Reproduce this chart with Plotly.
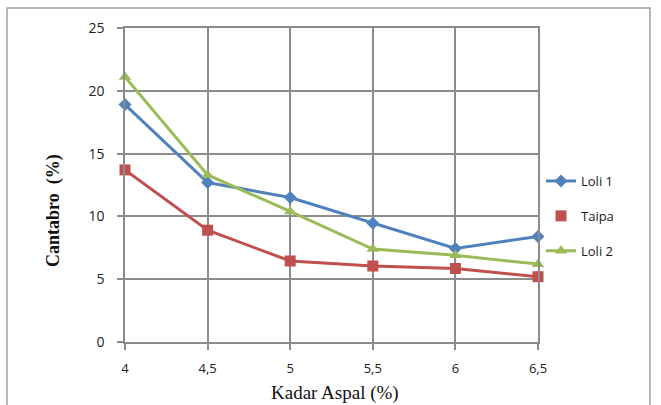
import plotly.graph_objects as go

kadar = [4, 4.5, 5, 5.5, 6, 6.5]
tick_labels = ["4", "4,5", "5", "5,5", "6", "6,5"]
loli1 = [18.9, 12.7, 11.5, 9.45, 7.45, 8.4]
taipa = [13.7, 8.9, 6.45, 6.05, 5.85, 5.2]
loli2 = [21.1, 13.3, 10.4, 7.4, 6.9, 6.2]

C_BLUE = "#4F81BD"
C_RED = "#C0504D"
C_GREEN = "#9BBB59"
GRID = "#8C8C8C"

fig = go.Figure()
fig.add_trace(go.Scatter(x=kadar, y=loli1, mode="lines+markers", name="Loli 1",
                         line=dict(color=C_BLUE, width=3), cliponaxis=False,
                         marker=dict(symbol="diamond", size=10, color=C_BLUE),
                         legendgroup="a"))
fig.add_trace(go.Scatter(x=kadar, y=taipa, mode="lines+markers", name="Taipa",
                         line=dict(color=C_RED, width=3), cliponaxis=False,
                         marker=dict(symbol="square", size=11, color=C_RED),
                         showlegend=False))
fig.add_trace(go.Scatter(x=[None], y=[None], mode="markers", name="Taipa",
                         marker=dict(symbol="square", size=11, color=C_RED),
                         legendgroup="b"))
fig.add_trace(go.Scatter(x=kadar, y=loli2, mode="lines+markers", name="Loli 2",
                         line=dict(color=C_GREEN, width=3), cliponaxis=False,
                         marker=dict(symbol="triangle-up", size=11, color=C_GREEN),
                         legendgroup="c"))

W, H = 661, 405
L, R, T, B = 125, W - 538, 28, H - 342
pw, ph = W - L - R, H - T - B

def px(x):
    return (x - L) / pw

def py(y):
    return (H - B - y) / ph

fig.add_shape(type="rect", xref="paper", yref="paper",
              x0=px(7), x1=px(650), y0=py(420), y1=py(8),
              line=dict(color="#A0A0A0", width=1.5), fillcolor="rgba(0,0,0,0)", layer="below")

fig.add_annotation(text="Kadar Aspal (%)", xref="paper", yref="paper",
                   x=px(335), y=py(393), xanchor="center", yanchor="middle",
                   showarrow=False,
                   font=dict(family="Liberation Serif, serif", size=19, color="#111111"))
fig.add_annotation(text="<b>Cantabro  (%)</b>", xref="paper", yref="paper",
                   x=px(53), y=py(211), xanchor="center", yanchor="middle",
                   showarrow=False, textangle=-90,
                   font=dict(family="Liberation Serif, serif", size=18, color="#111111"))

fig.update_layout(
    width=W, height=H,
    margin=dict(l=L, r=R, t=T, b=B),
    paper_bgcolor="white", plot_bgcolor="white",
    font=dict(family="Open Sans, Liberation Sans, sans-serif", color="#222222", size=13),
    legend=dict(x=px(541), y=py(166), xanchor="left", yanchor="top",
                font=dict(size=13, color="#1a1a1a", family="Open Sans, sans-serif"),
                tracegroupgap=15, traceorder="grouped", bgcolor="rgba(0,0,0,0)",
                itemwidth=30),
    showlegend=True,
    xaxis=dict(range=[4, 6.5], tickvals=kadar, ticktext=tick_labels,
               automargin=False,
               showgrid=True, gridcolor=GRID, gridwidth=1.5,
               showline=True, linecolor=GRID, linewidth=1.5, mirror=True,
               ticks="outside", ticklen=6, tickcolor=GRID, tickwidth=1.5,
               ticklabelstandoff=8,
               zeroline=False, tickfont=dict(size=13)),
    yaxis=dict(range=[0, 25], tickvals=[0, 5, 10, 15, 20, 25],
               automargin=False,
               showgrid=True, gridcolor=GRID, gridwidth=1.5,
               showline=True, linecolor=GRID, linewidth=1.5, mirror=True,
               ticks="outside", ticklen=6, tickcolor=GRID, tickwidth=1.5,
               ticklabelstandoff=10,
               zeroline=False, tickfont=dict(size=14)),
)

fig.write_html("out.html")
